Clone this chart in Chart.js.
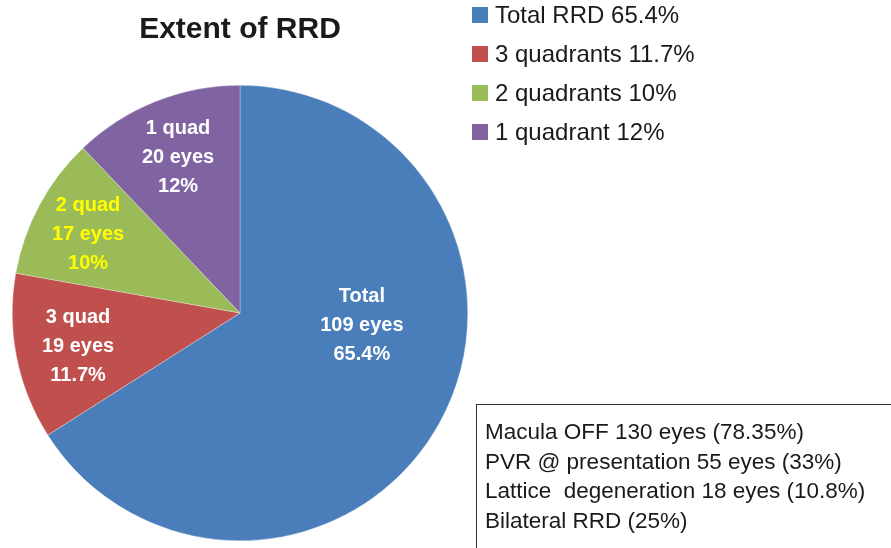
<!DOCTYPE html>
<html>
<head>
<meta charset="utf-8">
<script src="https://cdn.jsdelivr.net/npm/chart.js@4"></script>
<style>
  html, body { margin: 0; padding: 0; background: #fff; }
  #wrap { width: 891px; height: 548px; position: relative; }
</style>
</head>
<body>
<div id="wrap"><canvas id="myChart" width="891" height="548"></canvas></div>
<script>
// data
const categories = ['Total RRD', '3 quadrants', '2 quadrants', '1 quadrant'];
const percents = [65.4, 11.7, 10, 12];
const eyes = [109, 19, 17, 20];
const shortNames = ['Total', '3 quad', '2 quad', '1 quad'];
const notes = [
  'Macula OFF 130 eyes (78.35%)',
  'PVR @ presentation 55 eyes (33%)',
  'Lattice  degeneration 18 eyes (10.8%)',
  'Bilateral RRD (25%)'
];

const colors = ['#4a7ebb', '#c0504d', '#9bbb59', '#8064a2'];
const labelColors = ['#ffffff', '#ffffff', '#ffff00', '#ffffff'];
// label offsets inside each slice, in units of the radius
const labelOffsets = [[0.535, 0.053], [-0.711, 0.149], [-0.667, -0.346], [-0.272, -0.684]];

const FONT = '"Liberation Sans", Arial, sans-serif';

const extrasPlugin = {
  id: 'extras',
  afterDatasetsDraw(chart) {
    const ctx = chart.ctx;
    const arc = chart.getDatasetMeta(0).data[0];
    const cx = arc.x, cy = arc.y, r = arc.outerRadius;

    ctx.save();
    // slice labels
    ctx.font = 'bold 20px ' + FONT;
    ctx.textAlign = 'center';
    ctx.textBaseline = 'middle';
    percents.forEach((p, i) => {
      const x = cx + labelOffsets[i][0] * r;
      const y = cy + labelOffsets[i][1] * r;
      ctx.fillStyle = labelColors[i];
      ctx.fillText(shortNames[i], x, y - 29);
      ctx.fillText(eyes[i] + ' eyes', x, y);
      ctx.fillText(p + '%', x, y + 29);
    });

    // title
    ctx.fillStyle = '#1a1a1a';
    ctx.font = 'bold 30px ' + FONT;
    ctx.fillText('Extent of RRD', cx, 30);

    // legend
    ctx.textAlign = 'left';
    ctx.font = '24px ' + FONT;
    categories.forEach((c, i) => {
      const y = 15 + i * 39;
      ctx.fillStyle = colors[i];
      ctx.fillRect(472, y - 8, 16, 16);
      ctx.fillStyle = '#1a1a1a';
      ctx.fillText(c + ' ' + percents[i] + '%', 495, y + 1);
    });

    // notes box
    ctx.strokeStyle = '#333';
    ctx.lineWidth = 1;
    ctx.strokeRect(476.5, 404.5, 430, 160);
    ctx.font = '22.5px ' + FONT;
    ctx.fillStyle = '#1a1a1a';
    notes.forEach((n, i) => {
      ctx.fillText(n, 485, 433 + i * 29.5);
    });
    ctx.restore();
  }
};

new Chart(document.getElementById('myChart'), {
  type: 'pie',
  data: {
    labels: categories,
    datasets: [{
      data: percents,
      backgroundColor: colors,
      borderColor: 'rgba(255,255,255,0.6)',
      borderWidth: 0.5
    }]
  },
  options: {
    responsive: false,
    animation: false,
    layout: { padding: { left: 12, right: 423, top: 85, bottom: 7 } },
    plugins: {
      legend: { display: false },
      title: { display: false },
      tooltip: { enabled: false }
    }
  },
  plugins: [extrasPlugin]
});
</script>
</body>
</html>
